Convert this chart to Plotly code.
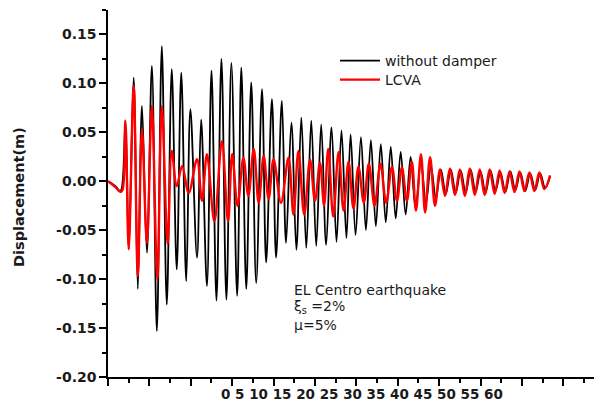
import plotly.graph_objects as go

# Time history of roof displacement, El Centro record (s, m)
time_labels = ["0", "5", "10", "15", "20", "25", "30", "35", "40", "45", "50", "55", "60"]
disp_ticks = [-0.20, -0.15, -0.10, -0.05, 0.00, 0.05, 0.10, 0.15]
disp_labels = ["-0.20", "-0.15", "-0.10", "-0.05", "0.00", "0.05", "0.10", "0.15"]

t_bare = [0, 0.9, 1.5,
          2.1, 2.5, 3.1, 3.6, 4.1, 4.7, 5.3, 5.9, 6.5, 7.1,
          7.7, 8.3, 8.85, 9.45, 9.95, 10.75, 11.25, 11.95, 12.5, 13.1,
          13.7, 14.3, 14.9, 15.6, 16.1, 16.7, 17.3, 17.9, 18.6, 19.1,
          19.8, 20.3, 21.0, 21.5, 22.15,
          22.75, 23.35, 23.95, 24.55, 25.15, 25.75, 26.35, 27.0, 27.6, 28.2,
          28.8, 29.3, 29.9, 30.55, 31.15, 31.75, 32.35, 32.95, 33.55, 34.15,
          34.75, 35.35, 35.95, 36.55, 37.15, 37.8, 38.4, 39.0, 39.6, 40.2,
          40.8,
          41.4, 42.0, 42.6, 43.2, 43.8, 44.4, 45.0, 45.6, 46.2, 46.8,
          47.4, 48.0, 48.6, 49.2, 49.8, 50.4, 51.0, 51.6, 52.2, 52.8,
          53.4]
d_bare = [0, -0.005, -0.01,
          0.06, -0.0695, 0.106, -0.110, 0.077, -0.073, 0.118, -0.153, 0.138, -0.126,
          0.1145, -0.090, 0.111, -0.102, 0.0736, -0.078, 0.063, -0.107, 0.113, -0.122,
          0.125, -0.121, 0.121, -0.117, 0.116, -0.110, 0.101, -0.104, 0.094, -0.083,
          0.084, -0.078, 0.082, -0.063, 0.060,
          -0.070, 0.065, -0.068, 0.062, -0.066, 0.058, -0.065, 0.055, -0.062, 0.052,
          -0.058, 0.048, -0.055, 0.045, -0.050, 0.042, -0.046, 0.038, -0.042, 0.035,
          -0.038, 0.030, -0.034, 0.025, -0.028, 0.020, -0.022, 0.015, -0.017, 0.012,
          -0.013,
          0.012, -0.012, 0.011, -0.012, 0.012, -0.011, 0.010, -0.012, 0.011, -0.010,
          0.009, -0.011, 0.010, -0.009, 0.009, -0.010, 0.008, -0.009, 0.008, -0.007,
          0.005]

t_lcva = [0, 0.9, 1.5, 1.75,
          2.1, 2.5, 3.1, 3.6, 4.1, 4.7, 5.3, 5.95, 6.5, 7.2,
          7.7, 8.3, 8.95, 9.75, 10.75, 11.35, 11.95, 12.85, 13.75, 14.5,
          15.0, 15.65, 16.35, 16.95, 17.6, 18.2, 18.8, 19.4, 20.0, 20.9,
          21.8, 22.4, 23.0, 23.7, 24.4, 25.0, 25.6, 26.1, 26.6, 27.2,
          27.85, 28.45, 29.05, 29.65, 30.25, 30.9, 31.5, 32.2, 32.9, 33.6,
          34.3, 34.9, 35.5, 36.1, 36.7, 37.2, 37.8, 38.3, 38.9, 39.5,
          40.1, 40.7, 41.3, 41.9, 42.5, 43.1, 43.7, 44.3, 44.9, 45.5,
          46.1, 46.7, 47.3, 47.9, 48.5, 49.1, 49.7, 50.3, 50.9, 51.5,
          52.1, 52.7, 53.4]
d_lcva = [0, -0.006, -0.011, -0.009,
          0.062, -0.0695, 0.0975, -0.097, 0.053, -0.063, 0.077, -0.100, 0.077, -0.064,
          0.031, -0.005, 0.0157, -0.012, 0.0225, -0.020, 0.0276, -0.041, 0.041, -0.041,
          0.028, -0.025, 0.024, -0.015, 0.033, -0.022, 0.026, -0.018, 0.0225, -0.022,
          0.024, -0.034, 0.031, -0.034, 0.022, -0.020, 0.019, -0.025, 0.033, -0.036,
          0.030, -0.030, 0.020, -0.028, 0.015, -0.022, 0.018, -0.025, 0.018, -0.022,
          0.015, -0.020, 0.014, -0.020, 0.020, -0.030, 0.0276, -0.032, 0.0245, -0.025,
          0.012, -0.015, 0.013, -0.014, 0.012, -0.015, 0.013, -0.014, 0.012, -0.014,
          0.012, -0.013, 0.011, -0.012, 0.010, -0.011, 0.010, -0.010, 0.009, -0.010,
          0.009, -0.008, 0.006]

FONT = "DejaVu Sans"
INK = "#1a1a1a"

# plot area in pixels: x from 108 to 594, y from 10 to 377
PX_W, PX_H, PX_L, PX_B = 486.0, 367.0, 108.0, 377.0


def px(x):
    return (x - PX_L) / PX_W


def py(y):
    return (PX_B - y) / PX_H


fig = go.Figure()
fig.add_trace(go.Scatter(x=t_bare, y=d_bare, mode="lines", name="without damper",
                         legend="legend",
                         line=dict(color="#000000", width=1.8, shape="spline", smoothing=1)))
fig.add_trace(go.Scatter(x=t_lcva, y=d_lcva, mode="lines", name="LCVA",
                         legend="legend2",
                         line=dict(color="#ff0000", width=2.4, shape="spline", smoothing=1)))

axis_common = dict(showgrid=False, zeroline=False, showline=True, linecolor="#000000",
                   linewidth=1.5, ticks="outside", tickcolor="#000000", tickwidth=1.5,
                   ticklen=7)

fig.update_xaxes(range=[0, 58.7], dtick=5, tick0=0, showticklabels=False,
                 minor=dict(dtick=2.5, tick0=0, ticks="outside", ticklen=4, tickwidth=1.5,
                            tickcolor="#000000"),
                 **axis_common)
fig.update_yaxes(range=[-0.2, 0.175], tickmode="array", tickvals=disp_ticks,
                 ticktext=disp_labels,
                 tickfont=dict(family=FONT, size=14, color=INK, weight="bold"),
                 minor=dict(tickmode="linear", dtick=0.025, tick0=0, ticks="outside",
                            ticklen=4, tickwidth=1.5, tickcolor="#000000"),
                 **axis_common)

# time labels set as one row under the axis
fig.add_annotation(text=" ".join(time_labels), xref="paper", yref="paper",
                   x=px(219), y=py(384), xanchor="left", yanchor="top",
                   showarrow=False,
                   font=dict(family=FONT, size=13.5, color=INK, weight="bold"))

fig.add_annotation(text="Displacement(m)", xref="paper", yref="paper",
                   x=px(19), y=py(197), textangle=-90,
                   xanchor="center", yanchor="middle", showarrow=False,
                   font=dict(family=FONT, size=14.5, color=INK, weight="bold"))

notes = ["EL Centro earthquake", "\u03be<sub>s</sub> =2%", "\u03bc=5%"]
note_y = [290, 307, 325]
for txt, yp in zip(notes, note_y):
    fig.add_annotation(text=txt, xref="paper", yref="paper",
                       x=px(292), y=py(yp),
                       xanchor="left", yanchor="middle", showarrow=False,
                       font=dict(family=FONT, size=14, color=INK))

legend_style = dict(xanchor="left", yanchor="middle", bgcolor="rgba(0,0,0,0)",
                    borderwidth=0, itemwidth=40,
                    font=dict(family=FONT, size=14, color=INK))

fig.update_layout(
    width=594, height=403,
    margin=dict(l=PX_L, r=0, t=10, b=403 - PX_B),
    paper_bgcolor="#ffffff", plot_bgcolor="#ffffff",
    showlegend=True,
    legend=dict(x=px(335), y=py(61), **legend_style),
    legend2=dict(x=px(335), y=py(80), **legend_style),
)

fig.write_html("out.html")
